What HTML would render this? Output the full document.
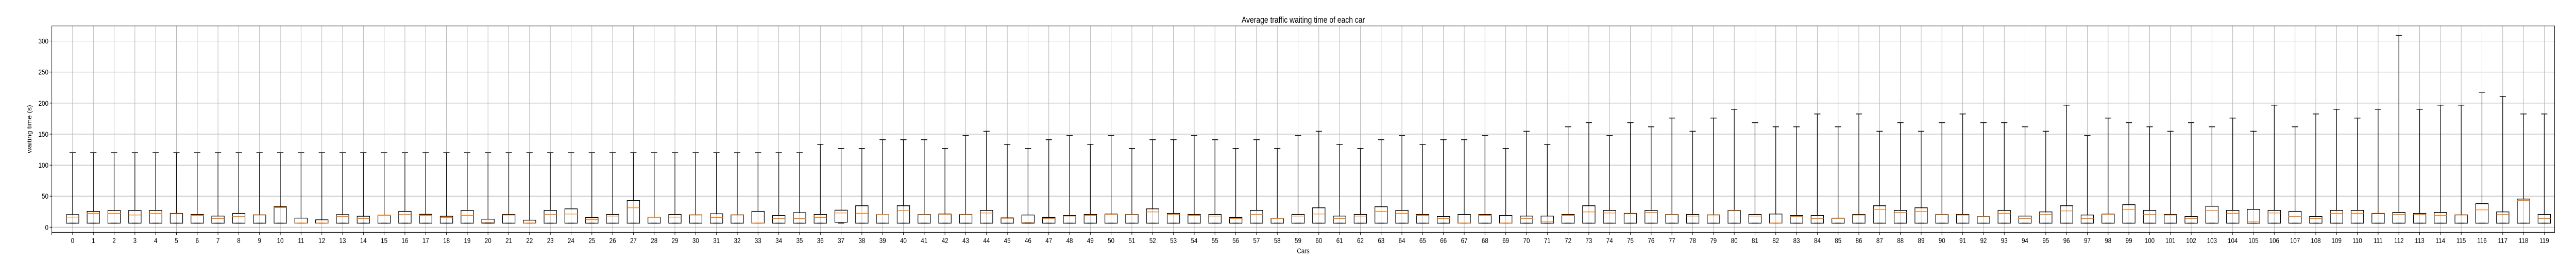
<!DOCTYPE html>
<html><head><meta charset="utf-8">
<style>
html,body{margin:0;padding:0;background:#fff;overflow:hidden;width:100%;height:100%;}
svg{display:block;font-family:"Liberation Sans","DejaVu Sans",sans-serif;width:100vw;height:100vh;}
</style></head>
<body>
<svg id="chart" viewBox="0 0 6000 500" preserveAspectRatio="none" xmlns="http://www.w3.org/2000/svg">
<rect x="0" y="0" width="6000" height="500" fill="#fff"/>
<g id="grid"></g>
<g id="boxes"></g>
<rect x="120.7" y="50.3" width="5829.6" height="400" fill="none" stroke="#000" stroke-width="1.1"/>
<g id="yticks"></g>
<g id="xticks"></g>
<text x="3035.5" y="44" font-size="16.7" text-anchor="middle">Average traffic waiting time of each car</text>
<text x="0" y="0" font-size="13.9" text-anchor="middle" transform="translate(73,250) rotate(-90)">waiting time (s)</text>
<text x="3035.5" y="491" font-size="13.9" text-anchor="middle">Cars</text>
</svg>
<script>
const categories = Array.from({length:120},(_,i)=>String(i));
const whiskerHigh = [120,120,120,120,120,120,120,120,120,120,120,120,120,
120,120,120,120,120,120,120,120,120,120,120,120,120,
120,120,120,120,120,120,120,120,120,120,133.5,126.9,126.9,141,
141,141,126.9,147.6,154.6,133.5,126.9,141,147.6,133.5,147.6,126.9,141,
141,147.6,141,126.9,141,126.9,147.6,154.6,133.5,126.9,141,147.6,133.5,141,
141,147.6,126.9,154.6,133.5,161.8,168.4,147.6,168.4,161.8,175.9,154.6,175.9,
190,168.4,161.8,161.8,182.5,161.8,182.5,154.6,168.4,154.6,168.4,182.5,168.4,168.4,
161.8,154.6,196.7,147.6,175.9,168.4,161.8,154.6,168.4,161.8,175.9,154.6,196.7,
161.8,182.5,190,175.9,190,309.1,190,196.7,196.7,217.5,210.8,182.5,182.5];
const q3 = [20.2,25.5,27.1,27.1,27.1,22.2,20.5,18.0,22.2,19.9,33.0,14.7,11.9,
20.2,17.7,19.4,25.5,20.8,17.7,27.1,13.0,20.5,11.4,27.1,29.6,15.5,
20.5,42.9,16.1,20.5,19.9,21.6,19.9,25.5,18.8,23.3,20.5,27.4,34.6,20.5,
34.6,20.5,21.3,20.5,27.1,15.0,19.7,15.8,18.8,20.5,21.3,20.5,29.6,
22.2,20.5,20.5,15.8,27.1,14.1,20.5,31.3,18.0,20.5,33.0,27.1,20.5,17.2,
20.5,20.5,18.8,18.0,18.0,20.5,34.6,27.1,22.2,27.1,20.5,20.5,19.9,
27.1,20.5,21.3,18.8,18.8,14.7,20.5,34.6,27.1,31.3,20.5,20.5,17.2,27.1,
18.0,24.7,34.6,19.7,21.1,36.3,27.1,20.5,17.2,33.8,27.1,28.8,27.1,
25.5,17.2,27.1,27.1,22.2,23.8,22.2,23.8,19.9,38.0,24.7,45.4,20.5];
const medians = [16.3,22.2,22.2,19.7,22.2,21.6,18.8,13.9,17.2,19.7,31.6,6.6,6.6,
17.2,13.9,19.1,20.5,19.1,15.5,18.8,8.0,19.7,6.6,20.5,21.3,12.2,
18.0,31.3,16.1,16.3,19.7,15.5,19.7,6.6,13.9,13.9,15.5,23.0,22.2,20.5,
27.1,20.2,20.5,20.2,23.0,14.4,8.0,13.9,18.0,19.1,20.5,20.2,24.7,
20.5,19.1,18.0,13.9,20.5,13.9,18.0,21.3,13.9,18.0,25.5,22.2,19.1,13.9,
6.6,19.1,6.6,13.9,9.7,19.1,24.7,23.0,21.6,23.8,20.2,18.0,19.7,
26.6,18.0,6.6,17.2,13.9,14.1,19.7,28.8,23.8,25.5,20.2,19.7,16.9,22.2,
13.9,20.5,26.3,13.9,20.5,28.8,20.5,19.7,13.9,27.1,22.2,9.7,23.0,
17.2,13.9,22.2,22.2,21.6,20.5,20.5,18.8,19.7,28.0,20.5,42.9,13.9];
const q1 = categories.map((c,i)=> i===37 ? 8 : 6.5);
const whiskerLow = categories.map(()=>6.5);
const yTicks = [0,50,100,150,200,250,300];

const NS='http://www.w3.org/2000/svg';
const L=120.7, R=5950.3, T=50.3, B=450.3;
const yMin=-8.3, yMax=324.3, xMin=0, xMax=120.5;
const sx = p => L + (p - xMin)/(xMax - xMin)*(R-L);
const sy = v => B - (v - yMin)/(yMax - yMin)*(B-T);
const step = (R-L)/(xMax-xMin);
function mk(tag, attrs, parent){const e=document.createElementNS(NS,tag);for(const k in attrs)e.setAttribute(k,attrs[k]);parent.appendChild(e);return e;}
const grid=document.getElementById('grid'), boxes=document.getElementById('boxes');
const yt=document.getElementById('yticks'), xt=document.getElementById('xticks');

yTicks.forEach(v=>{
  const y=sy(v);
  const g=mk('line',{x1:L,x2:R,y1:y,y2:y,stroke:'#b0b0b0','stroke-width':1.1},grid);
  
  
  const t=mk('line',{x1:L-4.9,x2:L,y1:y,y2:y,stroke:'#000','stroke-width':1.1},yt);
  
  
  const lb=mk('text',{x:L-8,y:y+5,'font-size':13.9,'text-anchor':'end'},yt);
  lb.textContent=v;
  
  
});
const t0=mk('line',{x1:sx(0),x2:sx(0),y1:B,y2:B+4.9,stroke:'#000','stroke-width':1.1},xt);



categories.forEach((c,i)=>{
  const x=sx(i+1);
  const g=mk('line',{x1:x,x2:x,y1:T,y2:B,stroke:'#b0b0b0','stroke-width':1.1},grid);
  
  
  const t=mk('line',{x1:x,x2:x,y1:B,y2:B+4.9,stroke:'#000','stroke-width':1.1},xt);
  
  
  const lb=mk('text',{x:x,y:B+20.5,'font-size':13.9,'text-anchor':'middle'},xt);
  lb.textContent=c;
  
  

  const grp=mk('g',{},boxes);
  
  
  const bw=step*0.6, cw=step*0.3;
  const st={stroke:'#000','stroke-width':1.4,fill:'none'};
  mk('line',Object.assign({x1:x,x2:x,y1:sy(q3[i]),y2:sy(whiskerHigh[i])},st),grp);
  mk('line',Object.assign({x1:x-cw/2,x2:x+cw/2,y1:sy(whiskerHigh[i]),y2:sy(whiskerHigh[i])},st),grp);
  mk('line',Object.assign({x1:x,x2:x,y1:sy(q1[i]),y2:sy(whiskerLow[i])},st),grp);
  mk('line',Object.assign({x1:x-cw/2,x2:x+cw/2,y1:sy(whiskerLow[i]),y2:sy(whiskerLow[i])},st),grp);
  mk('rect',Object.assign({x:x-bw/2,y:sy(q3[i]),width:bw,height:Math.max(0,sy(q1[i])-sy(q3[i]))},st),grp);
  mk('line',{x1:x-bw/2,x2:x+bw/2,y1:sy(medians[i]),y2:sy(medians[i]),stroke:'#ff7f0e','stroke-width':1.4},grp);
});
</script>
</body></html>
